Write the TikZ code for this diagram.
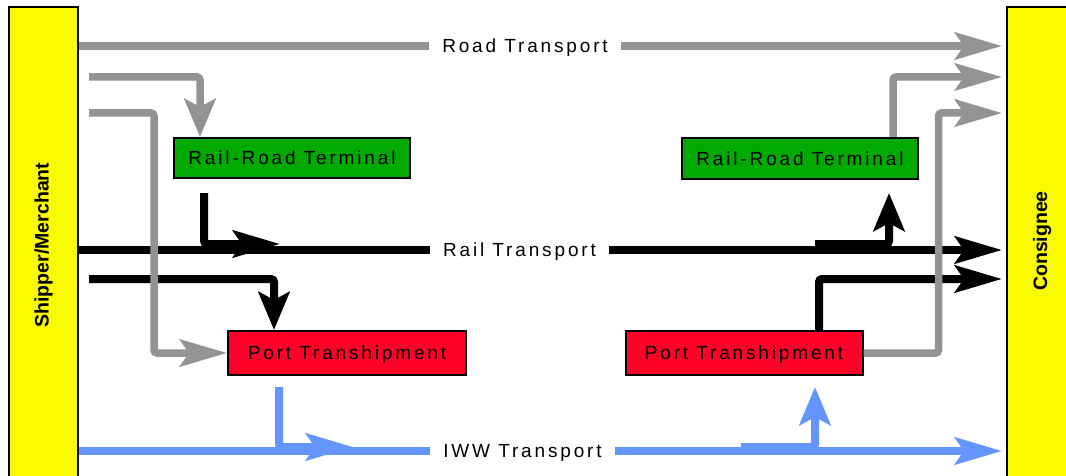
\documentclass[tikz,border=0pt]{standalone}
\usepackage{fontspec}
\usepackage{graphicx}
\setmainfont{Liberation Sans}
\newfontfamily\lblfont[LetterSpace=15]{Liberation Sans}
\usetikzlibrary{arrows.meta}
\definecolor{barY}{HTML}{FAFA00}
\definecolor{termG}{HTML}{00AA00}
\definecolor{portR}{HTML}{FF0028}
\definecolor{roadG}{HTML}{939393}
\definecolor{iwwB}{HTML}{6495FF}
\tikzset{
  bar/.style={draw=black, line width=2pt, fill=barY, inner sep=0pt,
    font=\bfseries\fontsize{19.5}{22}\selectfont},
  termbox/.style={draw=black, line width=2pt, inner sep=0pt,
    text height=13.6pt, text depth=0pt,
    font=\lblfont\fontsize{19}{22}\selectfont},
  tlabel/.style={fill=white, inner xsep=13pt, inner ysep=2pt,
    text height=13.6pt, text depth=0pt,
    font=\lblfont\fontsize{19}{22}\selectfont},
  road/.style={line width=7.5pt, draw=roadG, rounded corners=3pt},
  rail/.style={line width=8pt, draw=black, rounded corners=3pt},
  iww/.style={line width=8pt, draw=iwwB, rounded corners=3pt},
  hA/.style={-{Stealth[length=47pt,width=27pt,inset=9pt]}},
  vA/.style={-{Stealth[length=38pt,width=31pt,inset=8pt]}}
}
\begin{document}
\begin{tikzpicture}[x=1pt,y=-1pt]
\clip (0,0) rectangle (1066,476);
\fill[white] (0,0) rectangle (1066,476);
% side bars
\node[bar, minimum width=69pt, minimum height=476pt, outer sep=1pt] (ship) at (43.5,245)
  {\rotatebox{90}{Shipper/Merchant}};
\node[bar, minimum width=70pt, minimum height=476pt, outer xsep=5pt] (cons) at (1042,245)
  {\rotatebox{90}{\hspace*{8pt}Consignee}};
% terminals
\node[termbox, fill=termG, minimum width=236pt, minimum height=40pt] (rrL) at (292,158) {Rail-Road Terminal};
\node[termbox, fill=termG, minimum width=236pt, minimum height=41pt] (rrR) at (800,158.5) {Rail-Road Terminal};
\node[termbox, fill=portR, minimum width=238pt, minimum height=44pt] (ptL) at (347,353) {Port Transhipment};
\node[termbox, fill=portR, minimum width=237pt, minimum height=44pt] (ptR) at (744,353) {Port Transhipment};
% free ends
\coordinate (b1) at (89,77);
\coordinate (c1) at (89,113);
\coordinate (g1) at (204,193);
\coordinate (g2) at (280,244);
\coordinate (h1) at (89,279);
\coordinate (i1) at (815,244);
\coordinate (i2) at (889,193);
\coordinate (l1) at (279,387);
\coordinate (l2) at (353,447);
\coordinate (m1) at (741,447);
\coordinate (m2) at (815,387);
% rail (black)
\node[tlabel] (railL) at (519.5,250) {Rail Transport};
\draw[rail] (ship.east |- railL) -- (railL.west);
\draw[rail,hA] (railL.east) -- (cons.west |- railL);
\draw[rail,hA] (g1) |- (g2);
\draw[rail,vA] (h1) -| ([xshift=-73pt]ptL.north);
\draw[rail,vA] (i1) -| (i2);
\draw[rail,hA] ([xshift=75pt]ptR.north) |- (cons.west |- h1);
% iww (blue)
\node[tlabel] (iwwL) at (522.5,451) {IWW Transport};
\draw[iww] (ship.east |- iwwL) -- (iwwL.west);
\draw[iww,hA] (iwwL.east) -- (cons.west |- iwwL);
\draw[iww,hA] (l1) |- (l2);
\draw[iww,vA] (m1) -| (m2);
% road (gray)
\node[tlabel] (roadL) at (525,46) {Road Transport};
\draw[road] (ship.east |- roadL) -- (roadL.west);
\draw[road,hA] (roadL.east) -- (cons.west |- roadL);
\draw[road,vA] (b1) -| ([xshift=-92pt]rrL.north);
\draw[road,hA] (c1) -| ([xshift=-73pt]ptL.west) -- (ptL.west);
\draw[road,hA] ([xshift=93pt]rrR.north) |- (cons.west |- b1);
\draw[road,hA] (ptR.east) -- ++(75,0) |- (cons.west |- c1);
\end{tikzpicture}
\end{document}
